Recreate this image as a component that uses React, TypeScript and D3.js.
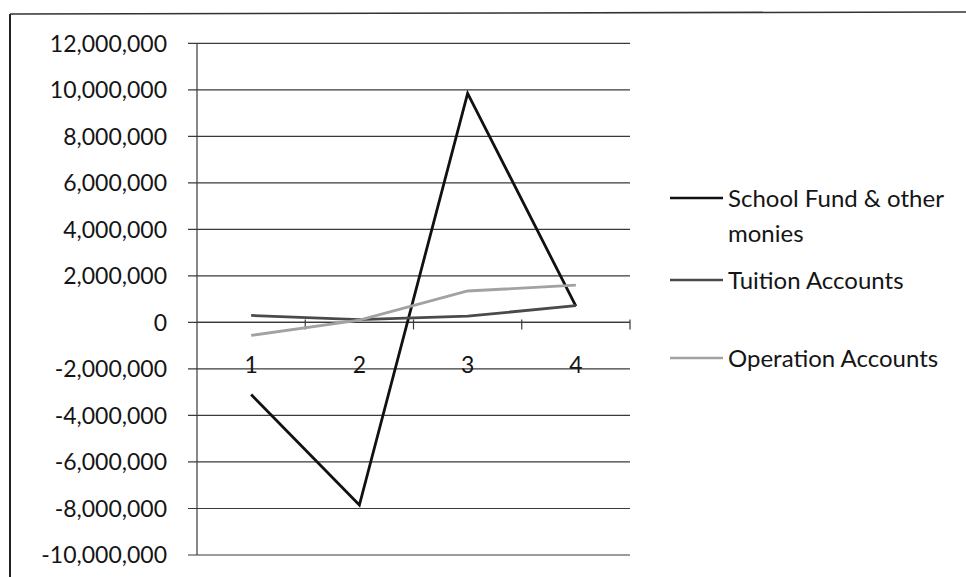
import React from "react";
import * as d3 from "d3";

const categories = ["1", "2", "3", "4"];
const schoolFund = [-3100000, -7850000, 9850000, 700000];
const tuition = [300000, 120000, 270000, 720000];
const operation = [-560000, 100000, 1350000, 1600000];
const yTicks = [12000000, 10000000, 8000000, 6000000, 4000000, 2000000, 0, -2000000, -4000000, -6000000, -8000000, -10000000];
const seriesNames = ["School Fund & other", "Tuition Accounts", "Operation Accounts"];

const W = 966, H = 577;
const FONT = "Lato, 'Open Sans', sans-serif";

export default function App() {
  const x = d3.scaleBand<string>().domain(categories).range([197, 630]);
  const y = d3.scaleLinear().domain([-10000000, 12000000]).range([555, 43.3]);
  const fmt = (v: number) => d3.format(",")(v).replace("\u2212", "-");
  const line = d3
    .line<number>()
    .x((_, i) => (x(categories[i]) as number) + x.bandwidth() / 2)
    .y((d) => y(d));

  const series = [
    { name: seriesNames[0], data: schoolFund, color: "#111", w: 2.8 },
    { name: seriesNames[1], data: tuition, color: "#4a4a4a", w: 2.8 },
    { name: seriesNames[2], data: operation, color: "#a2a2a2", w: 2.8 },
  ];
  const legendY = [198, 280, 358];
  const y0 = y(0);

  return (
    <svg width={W} height={H} style={{ position: "absolute", left: 0, top: 0, background: "#fff" }}>
      <rect x={0} y={0} width={W} height={H} fill="#fff" />
      <line x1={10} y1={14} x2={W} y2={12} stroke="#333" strokeWidth={1.6} />
      <line x1={10} y1={14} x2={10} y2={H} stroke="#222" strokeWidth={2} />

      {yTicks.map((t) => (
        <g key={t}>
          <line x1={188} x2={630} y1={y(t)} y2={y(t)} stroke="#3a3a3a" strokeWidth={1.2} />
          <text x={167} y={y(t)} dy="0.36em" textAnchor="end" fontFamily={FONT} fontSize={23} fill="#151515">
            {fmt(t)}
          </text>
        </g>
      ))}
      <line x1={197} x2={197} y1={43.3} y2={555} stroke="#3a3a3a" strokeWidth={1.2} />
      <line x1={197} x2={630} y1={y0} y2={y0} stroke="#3a3a3a" strokeWidth={1.4} />
      {categories.map((c) => (
        <line key={"t" + c} x1={(x(c) as number) + x.bandwidth()} x2={(x(c) as number) + x.bandwidth()} y1={y0 - 3} y2={y0 + 7} stroke="#3a3a3a" strokeWidth={1.2} />
      ))}
      {categories.map((c) => (
        <text key={"l" + c} x={(x(c) as number) + x.bandwidth() / 2} y={373} textAnchor="middle" fontFamily={FONT} fontSize={23} fill="#151515">
          {c}
        </text>
      ))}

      {series.map((s) => (
        <path key={s.name} d={line(s.data) as string} fill="none" stroke={s.color} strokeWidth={s.w} strokeLinejoin="miter" />
      ))}

      {series.map((s, i) => (
        <g key={"lg" + i}>
          <line x1={670} x2={723} y1={legendY[i]} y2={legendY[i]} stroke={s.color} strokeWidth={2.6} />
          <text x={728} y={legendY[i]} dy="0.36em" fontFamily={FONT} fontSize={24} fill="#151515">
            {s.name}
          </text>
        </g>
      ))}
      <text x={728} y={233} dy="0.36em" fontFamily={FONT} fontSize={24} fill="#151515">
        monies
      </text>
    </svg>
  );
}
